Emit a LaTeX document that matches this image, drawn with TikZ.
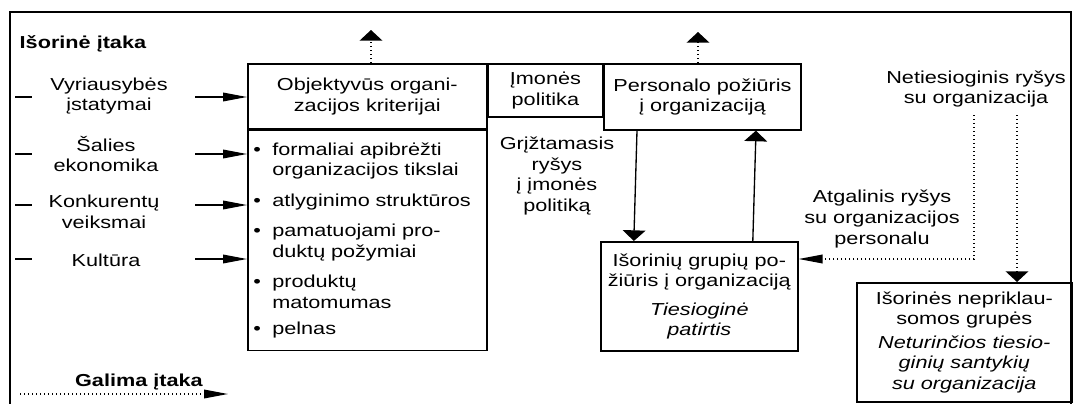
\documentclass[tikz,border=0pt]{standalone}
\usepackage{fontspec}
\setmainfont[FakeStretch=1.25]{Liberation Sans}
\usetikzlibrary{arrows.meta,positioning}
\newdimen\pxu \pxu=0.75pt
\newcommand{\blt}{\makebox[19\pxu][l]{\textbullet}}
\newcommand{\bltind}{\hspace*{19\pxu}}

\begin{document}
\begin{tikzpicture}[x=0.75pt,y=-0.75pt,node distance=0pt,
    font=\fontsize{13}{15.4}\selectfont,
    box/.style={draw,line width=1.2pt,align=center,inner sep=0pt},
    lbl/.style={align=center,inner sep=1pt},
    harrow/.style={line width=1pt,-{Triangle[length=18pt,width=6.5pt]}},
    varrow/.style={line width=1pt,-{Triangle[length=8pt,width=17pt]}}]
  \useasboundingbox (0,0) rectangle (1073,403);
  \draw[line width=2.2pt] (10,410) -- (10,12) -- (1071,12) -- (1071,410);

  % organizacija
  \node[box,anchor=north west,minimum width=239\pxu,minimum height=65\pxu] (obj) at (247,63)
    {Objektyvūs organi-\\zacijos kriterijai};
  \node[box,below=of obj,minimum height=220\pxu,text width=228\pxu,inner xsep=5.5\pxu,align=left] (krit) {
    \blt formaliai apibrėžti\\ \bltind organizacijos tikslai\\[10\pxu]
    \blt atlyginimo struktūros\\[10\pxu]
    \blt pamatuojami pro-\\ \bltind duktų požymiai\\[10\pxu]
    \blt produktų\\ \bltind matomumas\\[6\pxu]
    \blt pelnas};
  \node[box,anchor=north west,minimum width=114\pxu,minimum height=53\pxu] (polit) at (obj.north east)
    {Įmonės\\politika};
  \node[box,anchor=north west,minimum width=197\pxu,minimum height=66\pxu] (pers) at (polit.north east)
    {Personalo požiūris\\į organizaciją};
  \node[box,anchor=north west,minimum width=197\pxu,minimum height=109\pxu] (isor) at (600,241)
    {Išorinių grupių po-\\žiūris į organizaciją\\[8\pxu]\textit{Tiesioginė}\\\textit{patirtis}};
  \node[box,anchor=north west,minimum width=215\pxu,minimum height=119\pxu] (nepr) at (856,282)
    {Išorinės nepriklau-\\somos grupės\\[3\pxu]\textit{Neturinčios tiesio-}\\\textit{ginių santykių}\\\textit{su organizacija}};

  % etiketes
  \node[anchor=west] (isorine) at (15,44) {\textbf{Išorinė įtaka}};
  \node[lbl] (vyr) at (109,96) {Vyriausybės\\įstatymai};
  \node[lbl] (sal) at (106,154) {Šalies\\ekonomika};
  \node[lbl] (konk) at (104,212) {Konkurentų\\veiksmai};
  \node[lbl] (kult) at (106,260) {Kultūra};
  \node[lbl] (grizt) at (557,176) {Grįžtamasis\\ryšys\\į įmonės\\politiką};
  \node[lbl] (netie) at (976,89) {Netiesioginis ryšys\\su organizacija};
  \node[lbl] (atgal) at (882,219) {Atgalinis ryšys\\su organizacijos\\personalu};
  \node (galima) at (139,382) {\textbf{Galima įtaka}};

  % rodykles
  \foreach \y [count=\i] in {97,154,205,259} {
    \draw[line width=1pt] (15,\y) -- (32,\y);
    \coordinate (in\i) at (195,\y);
    \draw[harrow] (in\i) -- (in\i -| obj.west);
  }
  \coordinate (up1) at (371,30);
  \coordinate (up2) at (698,32);
  \draw[varrow,dotted] (up1 |- obj.north) -- (up1);
  \draw[varrow,dotted] (up2 |- pers.north) -- (up2);
  \draw[varrow] ([xshift=-65.5\pxu]pers.south) -- ([xshift=-65.5\pxu]isor.north);
  \draw[varrow] ([xshift=53.5\pxu]isor.north) -- ([xshift=53.5\pxu]pers.south);
  \coordinate (nt1) at (974,115);
  \coordinate (nt2) at (1017,115);
  \coordinate (bend) at (974,259);
  \draw[harrow,dotted] (nt1) -- (bend) -- (bend -| isor.east);
  \draw[varrow,dotted] (nt2) -- (nt2 |- nepr.north);
  \coordinate (gl0) at (20,394);
  \coordinate (gl1) at (228,394);
  \draw[harrow,dotted] (gl0) -- (gl1);
\end{tikzpicture}
\end{document}
